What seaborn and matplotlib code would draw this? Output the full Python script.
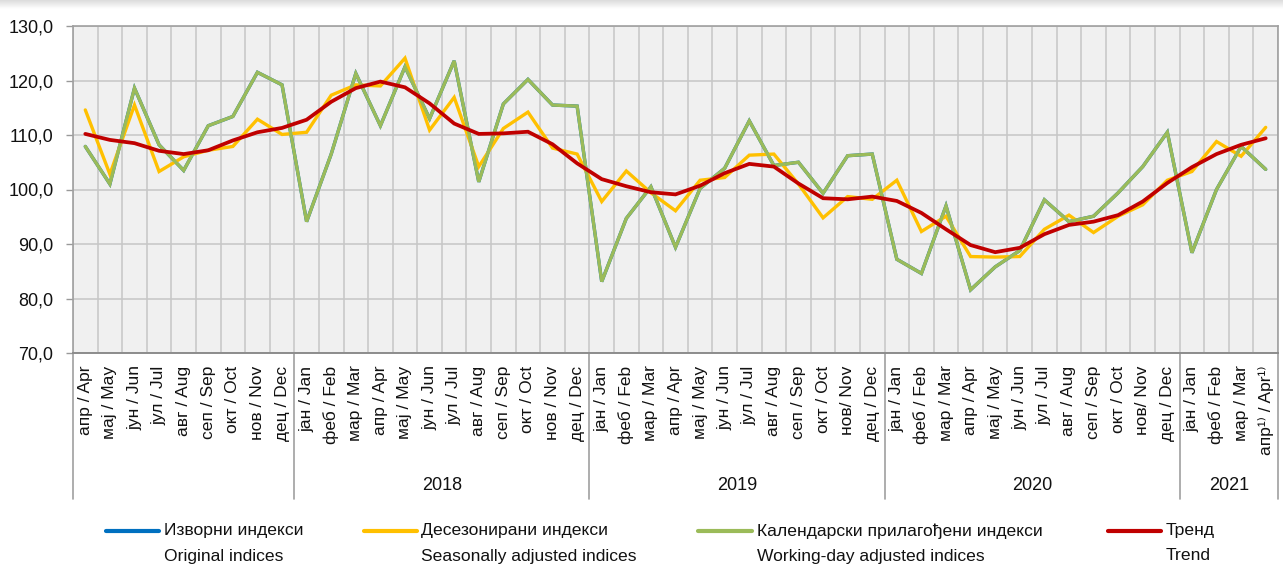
import numpy as np
import pandas as pd
import matplotlib
matplotlib.use("Agg")
import matplotlib.pyplot as plt
from matplotlib.lines import Line2D
import seaborn as sns

sns.set_theme(style="white")
plt.rcParams['font.family'] = ['Liberation Sans Narrow', 'Liberation Sans', 'DejaVu Sans']

months = ["апр / Apr", "мај / May", "јун / Jun", "јул / Jul", "авг / Aug", "сеп / Sep",
          "окт / Oct", "нов / Nov", "дец / Dec",
          "јан / Jan", "феб / Feb", "мар / Mar", "апр / Apr", "мај / May", "јун / Jun",
          "јул / Jul", "авг / Aug", "сеп / Sep", "окт / Oct", "нов / Nov", "дец / Dec",
          "јан / Jan", "феб / Feb", "мар / Mar", "апр / Apr", "мај / May", "јун / Jun",
          "јул / Jul", "авг / Aug", "сеп / Sep", "окт / Oct", "нов/ Nov", "дец / Dec",
          "јан / Jan", "феб / Feb", "мар / Mar", "апр / Apr", "мај / May", "јун / Jun",
          "јул / Jul", "авг / Aug", "сеп / Sep", "окт / Oct", "нов/ Nov", "дец / Dec",
          "јан / Jan", "феб / Feb", "мар / Mar", "апр¹⁾ / Apr¹⁾"]

years = ["", "2018", "2019", "2020", "2021"]
year_counts = [9, 12, 12, 12, 4]

original = [107.9, 101.0, 118.6, 108.2, 103.5, 111.7, 113.4, 121.5, 119.2,
            94.1, 106.5, 121.3, 111.7, 122.5, 113.0, 123.6, 101.4, 115.7, 120.2, 115.5, 115.3,
            83.1, 94.7, 100.5, 89.4, 100.2, 103.9, 112.6, 104.4, 105.0, 99.3, 106.2, 106.5,
            87.2, 84.6, 97.0, 81.6, 85.8, 88.8, 98.1, 94.1, 95.1, 99.4, 104.2, 110.5,
            88.4, 100.0, 107.9, 103.7]

seasonal = [114.6, 102.8, 115.5, 103.3, 106.0, 107.2, 107.9, 112.9, 110.1,
            110.5, 117.3, 119.2, 119.0, 124.1, 110.9, 116.9, 104.2, 111.2, 114.2, 107.6, 106.5,
            97.8, 103.4, 99.4, 96.1, 101.7, 102.2, 106.3, 106.5, 101.0, 94.8, 98.7, 98.2,
            101.7, 92.3, 95.1, 87.7, 87.6, 87.7, 92.7, 95.3, 92.1, 95.1, 97.2, 101.7,
            103.3, 108.8, 106.1, 111.4]

working_day = [107.9, 101.0, 118.6, 108.2, 103.5, 111.7, 113.4, 121.5, 119.2,
               94.1, 106.5, 121.3, 111.7, 122.5, 113.0, 123.6, 101.4, 115.7, 120.2, 115.5, 115.3,
               83.1, 94.7, 100.5, 89.4, 100.2, 103.9, 112.6, 104.4, 105.0, 99.3, 106.2, 106.5,
               87.2, 84.6, 97.0, 81.6, 85.8, 88.8, 98.1, 94.1, 95.1, 99.4, 104.2, 110.5,
               88.4, 100.0, 107.9, 103.7]

trend = [110.2, 109.1, 108.5, 107.1, 106.5, 107.2, 109.0, 110.5, 111.3,
         112.8, 116.1, 118.6, 119.8, 118.75, 115.8, 112.1, 110.2, 110.3, 110.6, 108.3, 104.8,
         101.9, 100.6, 99.5, 99.1, 100.7, 103.0, 104.7, 104.2, 101.1, 98.4, 98.2, 98.7,
         97.9, 95.7, 92.7, 89.8, 88.5, 89.3, 91.8, 93.5, 94.1, 95.3, 97.8, 101.2,
         104.1, 106.5, 108.2, 109.4]

labels_sr = ["Изворни индекси", "Десезонирани индекси", "Календарски прилагођени индекси", "Тренд"]
labels_en = ["Original indices", "Seasonally adjusted indices", "Working-day adjusted indices", "Trend"]
colors = ["#0070c0", "#ffc000", "#9bbb59", "#c00000"]
widths = [2.4, 2.4, 2.4, 2.7]

W, H = 1283, 584
fig = plt.figure(figsize=(W / 100, H / 100), dpi=100)
fig.patch.set_facecolor("white")

# top shadow band
band = fig.add_axes([0, 1 - 9 / H, 1, 9 / H])
grad = np.linspace(0.86, 1.0, 30).reshape(-1, 1)
band.imshow(grad, aspect="auto", cmap="gray", vmin=0, vmax=1, extent=[0, 1, 0, 1])
band.axis("off")

L, R, T, B = 73, 1278, 26, 353
ax = fig.add_axes([L / W, 1 - B / H, (R - L) / W, (B - T) / H])
ax.set_facecolor("#f0f0f0")

x = np.arange(len(months))
series = [original, seasonal, working_day, trend]
for vals, c, lw in zip(series, colors, widths):
    df = pd.DataFrame({"x": x, "y": vals})
    sns.lineplot(data=df, x="x", y="y", ax=ax, color=c, linewidth=lw, legend=False,
                 zorder=3, solid_joinstyle="miter")

ax.set_xlim(-0.5, len(months) - 0.5)
ax.set_ylim(70, 130)
ax.set_xlabel("")
ax.set_ylabel("")

TXT = 12.6
grid_c = "#c6c6c6"
ax.set_yticks(np.arange(70, 131, 10))
ax.set_yticklabels([f"{v:.1f}".replace(".", ",") for v in np.arange(70, 131, 10)],
                   fontsize=TXT + 0.4, color="#111111")
ax.set_xticks(x)
ax.set_xticklabels(months, rotation=90, fontsize=12.5, color="#111111",
                   family=['Liberation Sans', 'DejaVu Sans'])
ax.set_xticks(np.arange(-0.5, len(months), 1), minor=True)
ax.tick_params(axis="x", which="both", length=0, pad=9)
ax.tick_params(axis="y", which="major", length=5, width=1, color="#999999", pad=9, direction="out", left=True)
ax.grid(axis="y", which="major", color=grid_c, linewidth=1.1, zorder=0)
ax.grid(axis="x", which="minor", color=grid_c, linewidth=1.1, zorder=0)
ax.grid(axis="x", which="major", visible=False)
ax.set_axisbelow(True)
for s in ["top", "right", "left"]:
    ax.spines[s].set_color("#a0a0a0")
    ax.spines[s].set_linewidth(1.2)
ax.spines["bottom"].set_color("#8c8c8c")
ax.spines["bottom"].set_linewidth(1.4)

# year separators and labels
trans = ax.get_xaxis_transform()
y_bot = -(499 - B) / (B - T)
y_lab = -(486 - B) / (B - T)
bounds = np.concatenate([[0], np.cumsum(year_counts)]) - 0.5
for b in bounds:
    ax.plot([b, b], [0, y_bot], transform=trans, color="#a0a0a0", linewidth=1.2, clip_on=False)
for yr, a, b in zip(years, bounds[:-1], bounds[1:]):
    if yr:
        ax.text((a + b) / 2, y_lab, yr, transform=trans, ha="center", va="center",
                fontsize=TXT + 0.4, color="#111111")

# legend
leg_line_x = [(106, 159), (364, 417), (698, 752), (1108, 1161)]
leg_text_x = [164, 421, 757, 1166]
y1, y2 = 531, 556
for (xa, xb), tx, c, s1, s2 in zip(leg_line_x, leg_text_x, colors, labels_sr, labels_en):
    fig.add_artist(Line2D([xa / W, xb / W], [1 - y1 / H, 1 - y1 / H], color=c, linewidth=3.0,
                          transform=fig.transFigure))
    fig.text(tx / W, 1 - y1 / H, s1, ha="left", va="center", fontsize=TXT, color="#111111")
    fig.text(tx / W, 1 - y2 / H, s2, ha="left", va="center", fontsize=TXT, color="#111111")

fig.savefig("out.png", dpi=100, facecolor="white")
